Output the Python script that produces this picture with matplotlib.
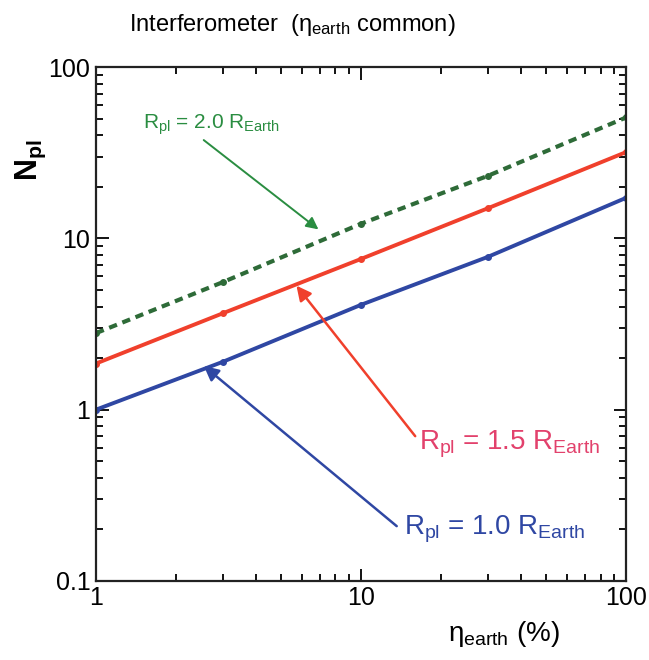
import matplotlib
matplotlib.use("Agg")
import matplotlib.pyplot as plt

plt.rcParams['font.family'] = ['Liberation Sans', 'DejaVu Sans']
plt.rcParams['mathtext.fontset'] = 'custom'
plt.rcParams['mathtext.rm'] = 'Liberation Sans'
plt.rcParams['mathtext.it'] = 'Liberation Sans'
plt.rcParams['mathtext.bf'] = 'Liberation Sans:bold'

# eta_earth (%) and number of planets for each planet radius
eta = [1, 3, 10, 30, 100]
n_r10 = [1.0, 1.9, 4.1, 7.8, 17.3]
n_r15 = [1.86, 3.65, 7.6, 15.0, 32.0]
n_r20 = [2.8, 5.55, 12.2, 23.2, 51.0]

blue = "#2f47a3"
red = "#f0402c"
green = "#2e6b38"

fig = plt.figure(figsize=(6.49, 6.60), dpi=100)
ax = fig.add_axes([0.148, 0.12, 0.817, 0.778])

ax.plot(eta, n_r10, color=blue, lw=2.8, marker="o", ms=4)
ax.plot(eta, n_r15, color=red, lw=2.8, marker="o", ms=4)
ax.plot(eta, n_r20, color=green, lw=3.0, ls=(0, (2.0, 1.4)), marker="o", ms=4)

ax.set_xscale("log")
ax.set_yscale("log")
ax.set_xlim(1, 100)
ax.set_ylim(0.1, 100)
ax.set_xticks([1, 10, 100])
ax.set_xticklabels(["1", "10", "100"])
ax.set_yticks([0.1, 1, 10, 100])
ax.set_yticklabels(["0.1", "1", "10", "100"])
ax.tick_params(which="both", direction="in", top=True, right=True, width=1.3)
ax.tick_params(which="major", length=9, labelsize=18, pad=4)
ax.tick_params(which="minor", length=5)
for s in ax.spines.values():
    s.set_linewidth(1.6)
    s.set_color("#222222")

ax.set_xlabel(r"$\eta_{\rm earth}$ (%)", fontsize=20)
ax.xaxis.set_label_coords(0.77, -0.075, transform=ax.transAxes)
ax.xaxis.label.set_va("top")
ax.set_ylabel(r"$\mathbf{N_{pl}}$", fontsize=22)
ax.yaxis.set_label_coords(-0.09, 0.82, transform=ax.transAxes)
fig.text(0.45, 0.962, r"Interferometer  ($\eta_{\rm earth}$ common)",
         ha="center", va="center", fontsize=17)

# annotations
ax.annotate(r"$R_{\rm pl}$ = 2.0 $R_{\rm Earth}$", xy=(6.9, 11.3), xytext=(1.5, 46),
            color="#2a8d41", fontsize=15, va="center",
            arrowprops=dict(arrowstyle="-|>", color="#2a8d41", lw=1.4,
                            mutation_scale=18, shrinkA=0, shrinkB=0,
                            relpos=(0.42, 0)))
ax.annotate(r"$R_{\rm pl}$ = 1.5 $R_{\rm Earth}$", xy=(5.7, 5.3), xytext=(16.5, 0.63),
            color="#e2416c", fontsize=20, va="center",
            arrowprops=dict(arrowstyle="-|>", color=red, lw=1.8,
                            mutation_scale=22, shrinkA=0, shrinkB=0,
                            relpos=(-0.02, 0.75)))
ax.annotate(r"$R_{\rm pl}$ = 1.0 $R_{\rm Earth}$", xy=(2.55, 1.8), xytext=(14.5, 0.2),
            color=blue, fontsize=20, va="center",
            arrowprops=dict(arrowstyle="-|>", color=blue, lw=1.8,
                            mutation_scale=22, shrinkA=0, shrinkB=0,
                            relpos=(-0.04, 0.6)))

fig.savefig("out.png", dpi=100)
